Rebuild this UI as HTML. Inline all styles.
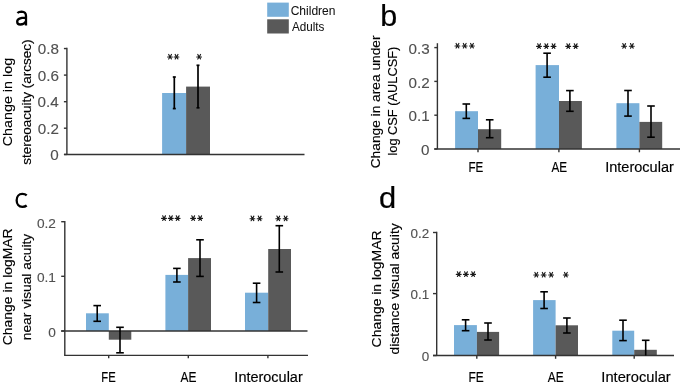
<!DOCTYPE html>
<html><head><meta charset="utf-8"><style>
html,body{margin:0;padding:0;background:#fff;}
body{width:685px;height:386px;overflow:hidden;}
svg{display:block;will-change:transform;font-family:"Liberation Sans",sans-serif;}
</style></head><body>
<svg width="685" height="386" viewBox="0 0 685 386">
<rect width="685" height="386" fill="#fff"/>
<rect x="267.2" y="2.6" width="21.6" height="14.2" fill="#78afd9"/>
<rect x="267.2" y="19.3" width="21.6" height="14.2" fill="#595959"/>
<text x="290.69" y="14.6" font-size="12.2" fill="#111" stroke="#111" stroke-width="0.05" textLength="44.8" lengthAdjust="spacingAndGlyphs">Children</text>
<text x="291.98" y="30.5" font-size="12.2" fill="#111" stroke="#111" stroke-width="0.05" textLength="32.45" lengthAdjust="spacingAndGlyphs">Adults</text>
<path d="M17.4 13C18.5 12 20 11.6 21.6 11.6C24.5 11.7 26 13 26 15.9V25.5M26 17.7C20.4 17.6 17.2 18.8 17.2 21.7C17.2 23.5 18.4 24.5 20.3 24.5C22.7 24.5 24.9 23.2 26 21.4" fill="none" stroke="#000" stroke-width="2.3"/>
<text x="380.32" y="25.5" font-size="29.6" fill="#000" stroke="#000" stroke-width="0.2" textLength="16.97" lengthAdjust="spacingAndGlyphs">b</text>
<path d="M26.7 195.3C25.6 194.3 24.1 193.9 22.3 193.9C18.9 193.9 16.65 196.6 16.65 200.35C16.65 204.1 18.9 206.8 22.3 206.8C24.1 206.8 25.6 206.4 26.7 205.5" fill="none" stroke="#000" stroke-width="2.3"/>
<text x="378.9" y="207.8" font-size="29.6" fill="#000" stroke="#000" stroke-width="0.2" textLength="17.18" lengthAdjust="spacingAndGlyphs">d</text>
<rect x="162.1" y="93" width="24" height="61.45" fill="#78afd9"/>
<rect x="186.1" y="86.6" width="23.9" height="67.85" fill="#595959"/>
<line x1="66.9" y1="47.85" x2="66.9" y2="154.45" stroke="#333" stroke-width="1.4"/>
<line x1="64.1" y1="154.45" x2="304.5" y2="154.45" stroke="#333" stroke-width="1.4"/>
<line x1="63.9" y1="48.55" x2="66.9" y2="48.55" stroke="#333" stroke-width="1.4"/>
<line x1="63.9" y1="75.1" x2="66.9" y2="75.1" stroke="#333" stroke-width="1.4"/>
<line x1="63.9" y1="101.7" x2="66.9" y2="101.7" stroke="#333" stroke-width="1.4"/>
<line x1="63.9" y1="128.2" x2="66.9" y2="128.2" stroke="#333" stroke-width="1.4"/>
<line x1="63.9" y1="154.45" x2="66.9" y2="154.45" stroke="#333" stroke-width="1.4"/>
<text x="37.71" y="54.15" font-size="14.3" fill="#505050" stroke="#505050" stroke-width="0.12" textLength="21.15" lengthAdjust="spacingAndGlyphs">0.8</text>
<text x="37.72" y="80.7" font-size="14.3" fill="#505050" stroke="#505050" stroke-width="0.12" textLength="21.15" lengthAdjust="spacingAndGlyphs">0.6</text>
<text x="37.49" y="107.3" font-size="14.3" fill="#505050" stroke="#505050" stroke-width="0.12" textLength="21.15" lengthAdjust="spacingAndGlyphs">0.4</text>
<text x="37.81" y="133.8" font-size="14.3" fill="#505050" stroke="#505050" stroke-width="0.12" textLength="21.15" lengthAdjust="spacingAndGlyphs">0.2</text>
<text x="50.33" y="160.05" font-size="14.3" fill="#505050" stroke="#505050" stroke-width="0.12" textLength="8.46" lengthAdjust="spacingAndGlyphs">0</text>
<line x1="174.3" y1="77" x2="174.3" y2="108.6" stroke="#000" stroke-width="1.7"/>
<line x1="172.8" y1="77" x2="175.8" y2="77" stroke="#000" stroke-width="1.7"/>
<line x1="172.8" y1="108.6" x2="175.8" y2="108.6" stroke="#000" stroke-width="1.7"/>
<line x1="198" y1="65.3" x2="198" y2="107.8" stroke="#000" stroke-width="1.7"/>
<line x1="196.5" y1="65.3" x2="199.5" y2="65.3" stroke="#000" stroke-width="1.7"/>
<line x1="196.5" y1="107.8" x2="199.5" y2="107.8" stroke="#000" stroke-width="1.7"/>
<path d="M170 57L167.6 57M170 57L172.4 57M170 57L168.7 54.4M170 57L171.45 54.45M170 57L168.7 59.05M170 57L171.4 58.95" stroke="#1a1a1a" stroke-width="1.15" stroke-linecap="round" fill="none"/>
<path d="M176.5 57L174.1 57M176.5 57L178.9 57M176.5 57L175.2 54.4M176.5 57L177.95 54.45M176.5 57L175.2 59.05M176.5 57L177.9 58.95" stroke="#1a1a1a" stroke-width="1.15" stroke-linecap="round" fill="none"/>
<path d="M199.1 57L196.7 57M199.1 57L201.5 57M199.1 57L197.8 54.4M199.1 57L200.55 54.45M199.1 57L197.8 59.05M199.1 57L200.5 58.95" stroke="#1a1a1a" stroke-width="1.15" stroke-linecap="round" fill="none"/>
<text transform="translate(12.4,146.33) rotate(-90)" font-size="13.6" fill="#000" stroke="#000" stroke-width="0.15" textLength="88.45" lengthAdjust="spacingAndGlyphs">Change in log</text>
<text transform="translate(30.9,164.78) rotate(-90)" font-size="13.6" fill="#000" stroke="#000" stroke-width="0.15" textLength="125.31" lengthAdjust="spacingAndGlyphs">stereoacuity (arcsec)</text>
<rect x="455.1" y="111.2" width="22.9" height="37.8" fill="#78afd9"/>
<rect x="478" y="129.2" width="23.2" height="19.8" fill="#595959"/>
<rect x="535.6" y="65.1" width="23.4" height="83.9" fill="#78afd9"/>
<rect x="559" y="101" width="22.9" height="48" fill="#595959"/>
<rect x="616.4" y="103.2" width="23" height="45.8" fill="#78afd9"/>
<rect x="639.4" y="121.9" width="22.8" height="27.1" fill="#595959"/>
<line x1="437.4" y1="43.2" x2="437.4" y2="149" stroke="#333" stroke-width="1.4"/>
<line x1="434.3" y1="149" x2="680" y2="149" stroke="#333" stroke-width="1.4"/>
<line x1="434.3" y1="47.6" x2="437.4" y2="47.6" stroke="#333" stroke-width="1.4"/>
<line x1="434.3" y1="81.4" x2="437.4" y2="81.4" stroke="#333" stroke-width="1.4"/>
<line x1="434.3" y1="115.2" x2="437.4" y2="115.2" stroke="#333" stroke-width="1.4"/>
<line x1="434.3" y1="149" x2="437.4" y2="149" stroke="#333" stroke-width="1.4"/>
<line x1="478" y1="149" x2="478" y2="152.3" stroke="#333" stroke-width="1.4"/>
<line x1="558.9" y1="149" x2="558.9" y2="152.3" stroke="#333" stroke-width="1.4"/>
<line x1="639.4" y1="149" x2="639.4" y2="152.3" stroke="#333" stroke-width="1.4"/>
<text x="408.52" y="53.7" font-size="14.3" fill="#505050" stroke="#505050" stroke-width="0.12" textLength="21.15" lengthAdjust="spacingAndGlyphs">0.3</text>
<text x="408.61" y="87.5" font-size="14.3" fill="#505050" stroke="#505050" stroke-width="0.12" textLength="21.15" lengthAdjust="spacingAndGlyphs">0.2</text>
<text x="408.6" y="121.3" font-size="14.3" fill="#505050" stroke="#505050" stroke-width="0.12" textLength="21.15" lengthAdjust="spacingAndGlyphs">0.1</text>
<text x="421.13" y="155.1" font-size="14.3" fill="#505050" stroke="#505050" stroke-width="0.12" textLength="8.46" lengthAdjust="spacingAndGlyphs">0</text>
<line x1="466.3" y1="104" x2="466.3" y2="118.4" stroke="#000" stroke-width="1.6"/>
<line x1="462.5" y1="104" x2="470.1" y2="104" stroke="#000" stroke-width="1.6"/>
<line x1="462.5" y1="118.4" x2="470.1" y2="118.4" stroke="#000" stroke-width="1.6"/>
<line x1="489.7" y1="119.8" x2="489.7" y2="137.7" stroke="#000" stroke-width="1.6"/>
<line x1="485.9" y1="119.8" x2="493.5" y2="119.8" stroke="#000" stroke-width="1.6"/>
<line x1="485.9" y1="137.7" x2="493.5" y2="137.7" stroke="#000" stroke-width="1.6"/>
<line x1="547.1" y1="53.2" x2="547.1" y2="77.2" stroke="#000" stroke-width="1.6"/>
<line x1="543.3" y1="53.2" x2="550.9" y2="53.2" stroke="#000" stroke-width="1.6"/>
<line x1="543.3" y1="77.2" x2="550.9" y2="77.2" stroke="#000" stroke-width="1.6"/>
<line x1="569.9" y1="90.6" x2="569.9" y2="111.3" stroke="#000" stroke-width="1.6"/>
<line x1="566.1" y1="90.6" x2="573.7" y2="90.6" stroke="#000" stroke-width="1.6"/>
<line x1="566.1" y1="111.3" x2="573.7" y2="111.3" stroke="#000" stroke-width="1.6"/>
<line x1="628" y1="90.5" x2="628" y2="116.1" stroke="#000" stroke-width="1.6"/>
<line x1="624.2" y1="90.5" x2="631.8" y2="90.5" stroke="#000" stroke-width="1.6"/>
<line x1="624.2" y1="116.1" x2="631.8" y2="116.1" stroke="#000" stroke-width="1.6"/>
<line x1="651" y1="106" x2="651" y2="137.2" stroke="#000" stroke-width="1.6"/>
<line x1="647.2" y1="106" x2="654.8" y2="106" stroke="#000" stroke-width="1.6"/>
<line x1="647.2" y1="137.2" x2="654.8" y2="137.2" stroke="#000" stroke-width="1.6"/>
<path d="M457.4 46L455 46M457.4 46L459.8 46M457.4 46L456.1 43.4M457.4 46L458.85 43.45M457.4 46L456.1 48.05M457.4 46L458.8 47.95" stroke="#1a1a1a" stroke-width="1.15" stroke-linecap="round" fill="none"/>
<path d="M464.65 46L462.25 46M464.65 46L467.05 46M464.65 46L463.35 43.4M464.65 46L466.1 43.45M464.65 46L463.35 48.05M464.65 46L466.05 47.95" stroke="#1a1a1a" stroke-width="1.15" stroke-linecap="round" fill="none"/>
<path d="M471.9 46L469.5 46M471.9 46L474.3 46M471.9 46L470.6 43.4M471.9 46L473.35 43.45M471.9 46L470.6 48.05M471.9 46L473.3 47.95" stroke="#1a1a1a" stroke-width="1.15" stroke-linecap="round" fill="none"/>
<path d="M539 46.4L536.6 46.4M539 46.4L541.4 46.4M539 46.4L537.7 43.8M539 46.4L540.45 43.85M539 46.4L537.7 48.45M539 46.4L540.4 48.35" stroke="#1a1a1a" stroke-width="1.15" stroke-linecap="round" fill="none"/>
<path d="M546.25 46.4L543.85 46.4M546.25 46.4L548.65 46.4M546.25 46.4L544.95 43.8M546.25 46.4L547.7 43.85M546.25 46.4L544.95 48.45M546.25 46.4L547.65 48.35" stroke="#1a1a1a" stroke-width="1.15" stroke-linecap="round" fill="none"/>
<path d="M553.5 46.4L551.1 46.4M553.5 46.4L555.9 46.4M553.5 46.4L552.2 43.8M553.5 46.4L554.95 43.85M553.5 46.4L552.2 48.45M553.5 46.4L554.9 48.35" stroke="#1a1a1a" stroke-width="1.15" stroke-linecap="round" fill="none"/>
<path d="M568.2 46.4L565.8 46.4M568.2 46.4L570.6 46.4M568.2 46.4L566.9 43.8M568.2 46.4L569.65 43.85M568.2 46.4L566.9 48.45M568.2 46.4L569.6 48.35" stroke="#1a1a1a" stroke-width="1.15" stroke-linecap="round" fill="none"/>
<path d="M575.6 46.4L573.2 46.4M575.6 46.4L578 46.4M575.6 46.4L574.3 43.8M575.6 46.4L577.05 43.85M575.6 46.4L574.3 48.45M575.6 46.4L577 48.35" stroke="#1a1a1a" stroke-width="1.15" stroke-linecap="round" fill="none"/>
<path d="M624.1 46.2L621.7 46.2M624.1 46.2L626.5 46.2M624.1 46.2L622.8 43.6M624.1 46.2L625.55 43.65M624.1 46.2L622.8 48.25M624.1 46.2L625.5 48.15" stroke="#1a1a1a" stroke-width="1.15" stroke-linecap="round" fill="none"/>
<path d="M631.8 46.2L629.4 46.2M631.8 46.2L634.2 46.2M631.8 46.2L630.5 43.6M631.8 46.2L633.25 43.65M631.8 46.2L630.5 48.25M631.8 46.2L633.2 48.15" stroke="#1a1a1a" stroke-width="1.15" stroke-linecap="round" fill="none"/>
<text x="468.45" y="171.6" font-size="13.8" fill="#000" stroke="#000" stroke-width="0.15" textLength="14.85" lengthAdjust="spacingAndGlyphs">FE</text>
<text x="551.38" y="171.6" font-size="13.8" fill="#000" stroke="#000" stroke-width="0.15" textLength="15.63" lengthAdjust="spacingAndGlyphs">AE</text>
<text x="605.16" y="171.6" font-size="13.8" fill="#000" stroke="#000" stroke-width="0.15" textLength="68.68" lengthAdjust="spacingAndGlyphs">Interocular</text>
<text transform="translate(379.6,168.3) rotate(-90)" font-size="13.6" fill="#000" stroke="#000" stroke-width="0.15" textLength="132.83" lengthAdjust="spacingAndGlyphs">Change in area under</text>
<text transform="translate(397.4,155.56) rotate(-90)" font-size="13.6" fill="#000" stroke="#000" stroke-width="0.15" textLength="108.85" lengthAdjust="spacingAndGlyphs">log CSF (AULCSF)</text>
<rect x="86" y="313.3" width="22.8" height="17.7" fill="#78afd9"/>
<rect x="108.8" y="331" width="22.5" height="8.7" fill="#595959"/>
<rect x="165.4" y="274.9" width="22.7" height="56.1" fill="#78afd9"/>
<rect x="188.1" y="258.1" width="22.9" height="72.9" fill="#595959"/>
<rect x="245" y="292.7" width="23.2" height="38.3" fill="#78afd9"/>
<rect x="268.2" y="249" width="22.8" height="82" fill="#595959"/>
<line x1="64.8" y1="221" x2="64.8" y2="355.4" stroke="#333" stroke-width="1.4"/>
<line x1="64.1" y1="355.4" x2="308" y2="355.4" stroke="#333" stroke-width="1.4"/>
<line x1="61.2" y1="331" x2="307.5" y2="331" stroke="#333" stroke-width="1.4"/>
<line x1="61.2" y1="221.7" x2="64.8" y2="221.7" stroke="#333" stroke-width="1.4"/>
<line x1="61.2" y1="276.3" x2="64.8" y2="276.3" stroke="#333" stroke-width="1.4"/>
<line x1="61.2" y1="331" x2="64.8" y2="331" stroke="#333" stroke-width="1.4"/>
<line x1="108.7" y1="355.4" x2="108.7" y2="358.3" stroke="#333" stroke-width="1.4"/>
<line x1="188.3" y1="355.4" x2="188.3" y2="358.3" stroke="#333" stroke-width="1.4"/>
<line x1="267.9" y1="355.4" x2="267.9" y2="358.3" stroke="#333" stroke-width="1.4"/>
<text x="36.96" y="227.6" font-size="13.7" fill="#505050" stroke="#505050" stroke-width="0.12" textLength="19.02" lengthAdjust="spacingAndGlyphs">0.2</text>
<text x="36.95" y="282.2" font-size="13.7" fill="#505050" stroke="#505050" stroke-width="0.12" textLength="19.02" lengthAdjust="spacingAndGlyphs">0.1</text>
<text x="48.22" y="336.9" font-size="13.7" fill="#505050" stroke="#505050" stroke-width="0.12" textLength="7.61" lengthAdjust="spacingAndGlyphs">0</text>
<line x1="97.2" y1="305.6" x2="97.2" y2="321.3" stroke="#000" stroke-width="1.6"/>
<line x1="93.4" y1="305.6" x2="101" y2="305.6" stroke="#000" stroke-width="1.6"/>
<line x1="93.4" y1="321.3" x2="101" y2="321.3" stroke="#000" stroke-width="1.6"/>
<line x1="120" y1="327.3" x2="120" y2="352.8" stroke="#000" stroke-width="1.6"/>
<line x1="116.2" y1="327.3" x2="123.8" y2="327.3" stroke="#000" stroke-width="1.6"/>
<line x1="116.2" y1="352.8" x2="123.8" y2="352.8" stroke="#000" stroke-width="1.6"/>
<line x1="176.9" y1="268.4" x2="176.9" y2="282" stroke="#000" stroke-width="1.6"/>
<line x1="173.1" y1="268.4" x2="180.7" y2="268.4" stroke="#000" stroke-width="1.6"/>
<line x1="173.1" y1="282" x2="180.7" y2="282" stroke="#000" stroke-width="1.6"/>
<line x1="200" y1="239.8" x2="200" y2="276.4" stroke="#000" stroke-width="1.6"/>
<line x1="196.2" y1="239.8" x2="203.8" y2="239.8" stroke="#000" stroke-width="1.6"/>
<line x1="196.2" y1="276.4" x2="203.8" y2="276.4" stroke="#000" stroke-width="1.6"/>
<line x1="256.6" y1="283.2" x2="256.6" y2="302.5" stroke="#000" stroke-width="1.6"/>
<line x1="252.8" y1="283.2" x2="260.4" y2="283.2" stroke="#000" stroke-width="1.6"/>
<line x1="252.8" y1="302.5" x2="260.4" y2="302.5" stroke="#000" stroke-width="1.6"/>
<line x1="279.3" y1="225.7" x2="279.3" y2="272" stroke="#000" stroke-width="1.6"/>
<line x1="275.5" y1="225.7" x2="283.1" y2="225.7" stroke="#000" stroke-width="1.6"/>
<line x1="275.5" y1="272" x2="283.1" y2="272" stroke="#000" stroke-width="1.6"/>
<path d="M164 218.4L161.6 218.4M164 218.4L166.4 218.4M164 218.4L162.7 215.8M164 218.4L165.45 215.85M164 218.4L162.7 220.45M164 218.4L165.4 220.35" stroke="#1a1a1a" stroke-width="1.15" stroke-linecap="round" fill="none"/>
<path d="M170.8 218.4L168.4 218.4M170.8 218.4L173.2 218.4M170.8 218.4L169.5 215.8M170.8 218.4L172.25 215.85M170.8 218.4L169.5 220.45M170.8 218.4L172.2 220.35" stroke="#1a1a1a" stroke-width="1.15" stroke-linecap="round" fill="none"/>
<path d="M177.6 218.4L175.2 218.4M177.6 218.4L180 218.4M177.6 218.4L176.3 215.8M177.6 218.4L179.05 215.85M177.6 218.4L176.3 220.45M177.6 218.4L179 220.35" stroke="#1a1a1a" stroke-width="1.15" stroke-linecap="round" fill="none"/>
<path d="M193.1 218.4L190.7 218.4M193.1 218.4L195.5 218.4M193.1 218.4L191.8 215.8M193.1 218.4L194.55 215.85M193.1 218.4L191.8 220.45M193.1 218.4L194.5 220.35" stroke="#1a1a1a" stroke-width="1.15" stroke-linecap="round" fill="none"/>
<path d="M200.1 218.4L197.7 218.4M200.1 218.4L202.5 218.4M200.1 218.4L198.8 215.8M200.1 218.4L201.55 215.85M200.1 218.4L198.8 220.45M200.1 218.4L201.5 220.35" stroke="#1a1a1a" stroke-width="1.15" stroke-linecap="round" fill="none"/>
<path d="M252.4 218.7L250 218.7M252.4 218.7L254.8 218.7M252.4 218.7L251.1 216.1M252.4 218.7L253.85 216.15M252.4 218.7L251.1 220.75M252.4 218.7L253.8 220.65" stroke="#1a1a1a" stroke-width="1.15" stroke-linecap="round" fill="none"/>
<path d="M259.6 218.7L257.2 218.7M259.6 218.7L262 218.7M259.6 218.7L258.3 216.1M259.6 218.7L261.05 216.15M259.6 218.7L258.3 220.75M259.6 218.7L261 220.65" stroke="#1a1a1a" stroke-width="1.15" stroke-linecap="round" fill="none"/>
<path d="M278.2 218.7L275.8 218.7M278.2 218.7L280.6 218.7M278.2 218.7L276.9 216.1M278.2 218.7L279.65 216.15M278.2 218.7L276.9 220.75M278.2 218.7L279.6 220.65" stroke="#1a1a1a" stroke-width="1.15" stroke-linecap="round" fill="none"/>
<path d="M285.6 218.7L283.2 218.7M285.6 218.7L288 218.7M285.6 218.7L284.3 216.1M285.6 218.7L287.05 216.15M285.6 218.7L284.3 220.75M285.6 218.7L287 220.65" stroke="#1a1a1a" stroke-width="1.15" stroke-linecap="round" fill="none"/>
<text x="101.28" y="381.5" font-size="13.8" fill="#000" stroke="#000" stroke-width="0.15" textLength="14.41" lengthAdjust="spacingAndGlyphs">FE</text>
<text x="180.48" y="381.5" font-size="13.8" fill="#000" stroke="#000" stroke-width="0.15" textLength="15.94" lengthAdjust="spacingAndGlyphs">AE</text>
<text x="234.37" y="381.5" font-size="13.8" fill="#000" stroke="#000" stroke-width="0.15" textLength="68.37" lengthAdjust="spacingAndGlyphs">Interocular</text>
<text transform="translate(12.4,345.21) rotate(-90)" font-size="13.6" fill="#000" stroke="#000" stroke-width="0.15" textLength="116.87" lengthAdjust="spacingAndGlyphs">Change in logMAR</text>
<text transform="translate(30.7,340.21) rotate(-90)" font-size="13.6" fill="#000" stroke="#000" stroke-width="0.15" textLength="106.44" lengthAdjust="spacingAndGlyphs">near visual acuity</text>
<rect x="454" y="325.1" width="22.9" height="30.4" fill="#78afd9"/>
<rect x="476.9" y="331.9" width="22.2" height="23.6" fill="#595959"/>
<rect x="533.1" y="300.1" width="22.5" height="55.4" fill="#78afd9"/>
<rect x="555.6" y="325.3" width="22.4" height="30.2" fill="#595959"/>
<rect x="612.3" y="330.7" width="21.9" height="24.8" fill="#78afd9"/>
<rect x="634.2" y="349.8" width="22.6" height="5.7" fill="#595959"/>
<line x1="436.7" y1="231.8" x2="436.7" y2="355.5" stroke="#333" stroke-width="1.4"/>
<line x1="433" y1="355.5" x2="674" y2="355.5" stroke="#333" stroke-width="1.4"/>
<line x1="433" y1="232.5" x2="436.7" y2="232.5" stroke="#333" stroke-width="1.4"/>
<line x1="433" y1="293.6" x2="436.7" y2="293.6" stroke="#333" stroke-width="1.4"/>
<line x1="433" y1="355.5" x2="436.7" y2="355.5" stroke="#333" stroke-width="1.4"/>
<line x1="476.8" y1="355.5" x2="476.8" y2="358.8" stroke="#333" stroke-width="1.4"/>
<line x1="555.6" y1="355.5" x2="555.6" y2="358.8" stroke="#333" stroke-width="1.4"/>
<line x1="634.2" y1="355.5" x2="634.2" y2="358.8" stroke="#333" stroke-width="1.4"/>
<text x="410.57" y="237.9" font-size="13.6" fill="#505050" stroke="#505050" stroke-width="0.12" textLength="18.71" lengthAdjust="spacingAndGlyphs">0.2</text>
<text x="410.56" y="299" font-size="13.6" fill="#505050" stroke="#505050" stroke-width="0.12" textLength="18.71" lengthAdjust="spacingAndGlyphs">0.1</text>
<text x="421.64" y="360.9" font-size="13.6" fill="#505050" stroke="#505050" stroke-width="0.12" textLength="7.48" lengthAdjust="spacingAndGlyphs">0</text>
<line x1="465.6" y1="319.8" x2="465.6" y2="330.7" stroke="#000" stroke-width="1.6"/>
<line x1="461.8" y1="319.8" x2="469.4" y2="319.8" stroke="#000" stroke-width="1.6"/>
<line x1="461.8" y1="330.7" x2="469.4" y2="330.7" stroke="#000" stroke-width="1.6"/>
<line x1="488" y1="323" x2="488" y2="340" stroke="#000" stroke-width="1.6"/>
<line x1="484.2" y1="323" x2="491.8" y2="323" stroke="#000" stroke-width="1.6"/>
<line x1="484.2" y1="340" x2="491.8" y2="340" stroke="#000" stroke-width="1.6"/>
<line x1="544.1" y1="291.8" x2="544.1" y2="308.5" stroke="#000" stroke-width="1.6"/>
<line x1="540.3" y1="291.8" x2="547.9" y2="291.8" stroke="#000" stroke-width="1.6"/>
<line x1="540.3" y1="308.5" x2="547.9" y2="308.5" stroke="#000" stroke-width="1.6"/>
<line x1="566.9" y1="318" x2="566.9" y2="333" stroke="#000" stroke-width="1.6"/>
<line x1="563.1" y1="318" x2="570.7" y2="318" stroke="#000" stroke-width="1.6"/>
<line x1="563.1" y1="333" x2="570.7" y2="333" stroke="#000" stroke-width="1.6"/>
<line x1="623" y1="320.2" x2="623" y2="340.6" stroke="#000" stroke-width="1.6"/>
<line x1="619.2" y1="320.2" x2="626.8" y2="320.2" stroke="#000" stroke-width="1.6"/>
<line x1="619.2" y1="340.6" x2="626.8" y2="340.6" stroke="#000" stroke-width="1.6"/>
<line x1="645.7" y1="340.3" x2="645.7" y2="355.5" stroke="#000" stroke-width="1.6"/>
<line x1="641.9" y1="340.3" x2="649.5" y2="340.3" stroke="#000" stroke-width="1.6"/>
<path d="M458.7 274.4L456.3 274.4M458.7 274.4L461.1 274.4M458.7 274.4L457.4 271.8M458.7 274.4L460.15 271.85M458.7 274.4L457.4 276.45M458.7 274.4L460.1 276.35" stroke="#1a1a1a" stroke-width="1.15" stroke-linecap="round" fill="none"/>
<path d="M465.9 274.4L463.5 274.4M465.9 274.4L468.3 274.4M465.9 274.4L464.6 271.8M465.9 274.4L467.35 271.85M465.9 274.4L464.6 276.45M465.9 274.4L467.3 276.35" stroke="#1a1a1a" stroke-width="1.15" stroke-linecap="round" fill="none"/>
<path d="M473.1 274.4L470.7 274.4M473.1 274.4L475.5 274.4M473.1 274.4L471.8 271.8M473.1 274.4L474.55 271.85M473.1 274.4L471.8 276.45M473.1 274.4L474.5 276.35" stroke="#1a1a1a" stroke-width="1.15" stroke-linecap="round" fill="none"/>
<path d="M536.2 275L533.8 275M536.2 275L538.6 275M536.2 275L534.9 272.4M536.2 275L537.65 272.45M536.2 275L534.9 277.05M536.2 275L537.6 276.95" stroke="#1a1a1a" stroke-width="1.15" stroke-linecap="round" fill="none"/>
<path d="M543.65 275L541.25 275M543.65 275L546.05 275M543.65 275L542.35 272.4M543.65 275L545.1 272.45M543.65 275L542.35 277.05M543.65 275L545.05 276.95" stroke="#1a1a1a" stroke-width="1.15" stroke-linecap="round" fill="none"/>
<path d="M551.1 275L548.7 275M551.1 275L553.5 275M551.1 275L549.8 272.4M551.1 275L552.55 272.45M551.1 275L549.8 277.05M551.1 275L552.5 276.95" stroke="#1a1a1a" stroke-width="1.15" stroke-linecap="round" fill="none"/>
<path d="M565.8 275L563.4 275M565.8 275L568.2 275M565.8 275L564.5 272.4M565.8 275L567.25 272.45M565.8 275L564.5 277.05M565.8 275L567.2 276.95" stroke="#1a1a1a" stroke-width="1.15" stroke-linecap="round" fill="none"/>
<text x="468.42" y="381.6" font-size="13.8" fill="#000" stroke="#000" stroke-width="0.15" textLength="15.29" lengthAdjust="spacingAndGlyphs">FE</text>
<text x="547.78" y="381.6" font-size="13.8" fill="#000" stroke="#000" stroke-width="0.15" textLength="15.94" lengthAdjust="spacingAndGlyphs">AE</text>
<text x="601.35" y="381.6" font-size="13.8" fill="#000" stroke="#000" stroke-width="0.15" textLength="69.4" lengthAdjust="spacingAndGlyphs">Interocular</text>
<text transform="translate(381.3,347.41) rotate(-90)" font-size="13.6" fill="#000" stroke="#000" stroke-width="0.15" textLength="116.97" lengthAdjust="spacingAndGlyphs">Change in logMAR</text>
<text transform="translate(399.2,354.48) rotate(-90)" font-size="13.6" fill="#000" stroke="#000" stroke-width="0.15" textLength="131.21" lengthAdjust="spacingAndGlyphs">distance visual acuity</text>
</svg>
</body></html>
